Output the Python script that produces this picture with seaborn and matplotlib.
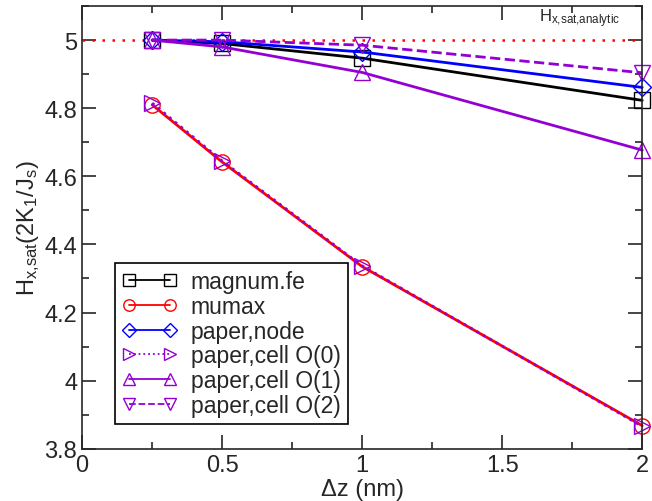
import matplotlib
matplotlib.use("Agg")
import matplotlib.pyplot as plt
import seaborn as sns
import pandas as pd
from matplotlib.ticker import MultipleLocator

dz = [0.25, 0.5, 1.0, 2.0]
magnum_fe = [5.0, 4.99, 4.947, 4.823]
mumax = [4.81, 4.642, 4.335, 3.868]
paper_node = [5.0, 4.995, 4.965, 4.861]
cell_o0 = [4.815, 4.645, 4.337, 3.866]
cell_o1 = [5.0, 4.98, 4.905, 4.677]
cell_o2 = [5.0, 5.0, 4.985, 4.904]
analytic = 5.0

sns.set_theme(style="ticks")
plt.rcParams['font.family'] = ['Liberation Sans', 'DejaVu Sans']
plt.rcParams['mathtext.fontset'] = 'custom'
plt.rcParams['mathtext.rm'] = 'Liberation Sans'
plt.rcParams['mathtext.it'] = 'Liberation Sans'

fig = plt.figure(figsize=(6.52, 5.02), dpi=100)
ax = fig.add_axes([0.126, 0.104, 0.859, 0.882])

violet = '#9400d3'
series = [
    ("magnum.fe", magnum_fe, 'black', 's', '-'),
    ("mumax", mumax, 'red', 'o', '-'),
    ("paper,node", paper_node, 'blue', 'D', '-'),
    ("paper,cell O(0)", cell_o0, violet, '>', ':'),
    ("paper,cell O(1)", cell_o1, violet, '^', '-'),
    ("paper,cell O(2)", cell_o2, violet, 'v', '--'),
]

ax.axhline(analytic, color='red', ls=(0, (1, 3)), lw=1.8, zorder=1)

for name, vals, col, mk, ls in series:
    df = pd.DataFrame({"dz": dz, "H": vals})
    ms = 11 if mk != 'D' else 9
    sns.lineplot(data=df, x="dz", y="H", ax=ax, color=col, linestyle=ls, lw=2,
                 marker=mk, markersize=ms, markerfacecolor='none',
                 markeredgecolor=col, markeredgewidth=1.0, label=name,
                 clip_on=False)

ax.text(1.63, 5.065, r'H$_{x{,}sat{,}analytic}$', fontsize=12, ha='left', va='center')

ax.set_xlim(0, 2)
ax.set_ylim(3.8, 5.1)
ax.xaxis.set_minor_locator(MultipleLocator(0.25))
ax.yaxis.set_minor_locator(MultipleLocator(0.1))
ax.set_xticks([0, 0.5, 1, 1.5, 2])
ax.set_xticklabels(['0', '0.5', '1', '1.5', '2'])
ax.set_yticks([3.8, 4.0, 4.2, 4.4, 4.6, 4.8, 5.0])
ax.set_yticklabels(['3.8', '4', '4.2', '4.4', '4.6', '4.8', '5'])
ax.tick_params(which='both', direction='in', top=True, right=True, labelsize=17, width=1.2)
ax.tick_params(which='major', length=10)
ax.tick_params(which='minor', length=5)
for s in ax.spines.values():
    s.set_linewidth(1.2)
    s.set_visible(True)

ax.set_xlabel('Δz (nm)', fontsize=17, labelpad=2)
ax.set_ylabel(r'H$_{x{,}sat}$(2K$_1$/J$_s$)', fontsize=17, labelpad=2)

leg = ax.legend(loc='lower left', bbox_to_anchor=(0.059, 0.056), borderaxespad=0,
                fontsize=16.5, numpoints=2, markerscale=0.75,
                frameon=True, fancybox=False, edgecolor='black', framealpha=1,
                handlelength=2.4, borderpad=0.3, labelspacing=0.08, handletextpad=0.6)
leg.get_frame().set_linewidth(1.2)
for line in leg.get_lines():
    line.set_linewidth(1.3)

fig.savefig('out.png', dpi=100)
